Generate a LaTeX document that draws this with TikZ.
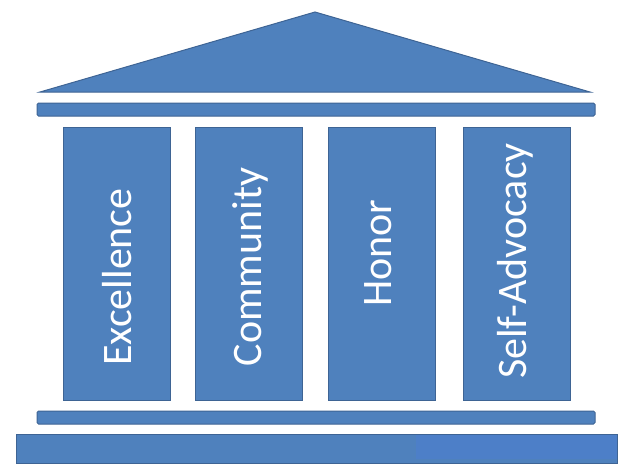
\documentclass[tikz,border=0pt]{standalone}
\usepackage{fontspec}
\setmainfont{Carlito}
\definecolor{pillarblue}{HTML}{4F81BD}
\definecolor{pillaredge}{HTML}{3E6494}
\definecolor{baselight}{HTML}{4D7FC8}
\begin{document}
\begin{tikzpicture}[x=1pt, y=-1pt,
    part/.style={fill=pillarblue, draw=pillaredge, line width=1pt},
    word/.style={text=white, rotate=90, inner sep=0pt, font=\fontsize{42}{50}\selectfont}]
  \useasboundingbox (0,0) rectangle (626,464);
  % roof and beams
  \draw[part] (40,92)--(315,12)--(590,92)--cycle;
  \draw[part, rounded corners=1.5pt] (37,103) rectangle (595,116);
  \draw[part, rounded corners=1.5pt] (37,411) rectangle (595,424);
  \draw[part] (16,434) rectangle (617,463.5);
  \fill[baselight] (416,435) rectangle (616.5,459);
  % pillars
  \foreach \x in {63,195,328,463}
    \draw[part] (\x,127) rectangle ++(107,273);
  \node[word] (excellence) at (117,277) {Excellence};
  \node[word] (community) at (250,267) {Community};
  \node[word] (honor) at (378,253) {Honor};
  \node[word] (selfadvocacy) at (515,261) {Self-Advocacy};
\end{tikzpicture}
\end{document}
